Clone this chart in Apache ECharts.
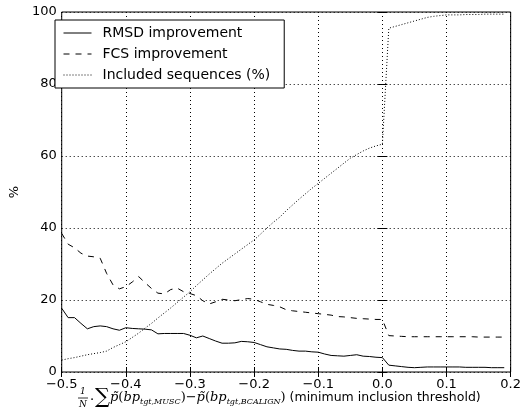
<!DOCTYPE html>
<html><head><meta charset="utf-8">
<script src="https://cdn.jsdelivr.net/npm/echarts@6/dist/echarts.min.js"></script>
<style>html,body{margin:0;padding:0;background:#fff}#c{width:524px;height:410px}</style>
</head><body><div id="c"></div>
<script>
const xs = [-0.50,-0.49,-0.48,-0.47,-0.46,-0.45,-0.44,-0.43,-0.42,-0.41,-0.40,-0.39,-0.38,-0.37,-0.36,-0.35,-0.34,-0.33,-0.32,-0.31,-0.30,-0.29,-0.28,-0.27,-0.26,-0.25,-0.24,-0.23,-0.22,-0.21,-0.20,-0.19,-0.18,-0.17,-0.16,-0.15,-0.14,-0.13,-0.12,-0.11,-0.10,-0.09,-0.08,-0.07,-0.06,-0.05,-0.04,-0.03,-0.02,-0.01,0.00,0.01,0.02,0.03,0.04,0.05,0.06,0.07,0.08,0.09,0.10,0.11,0.12,0.13,0.14,0.15,0.16,0.17,0.18,0.19];
const rmsd = [17.7,15.1,15.1,13.5,12.0,12.6,12.8,12.6,12.0,11.6,12.3,12.1,12.0,11.9,11.7,10.6,10.7,10.7,10.7,10.7,10.2,9.5,10.0,9.3,8.6,8.0,8.0,8.1,8.5,8.4,8.2,7.6,7.0,6.7,6.4,6.3,6.0,5.8,5.8,5.6,5.5,5.0,4.6,4.5,4.4,4.6,4.8,4.4,4.3,4.1,4.0,1.9,1.7,1.5,1.3,1.2,1.3,1.4,1.4,1.4,1.4,1.4,1.4,1.3,1.3,1.3,1.3,1.2,1.2,1.2];
const fcs = [38.5,35.5,34.5,33.0,32.2,32.0,31.6,27.4,24.2,23.1,23.7,25.0,26.5,24.8,23.2,21.9,21.7,22.9,23.3,22.3,21.8,21.2,19.8,18.9,19.5,20.2,20.0,19.8,20.1,20.4,20.2,19.5,18.8,18.5,18.1,17.3,17.0,16.8,16.6,16.4,16.2,16.0,15.8,15.4,15.3,15.1,14.9,14.8,14.7,14.6,14.6,10.1,10.0,9.9,9.8,9.8,9.8,9.8,9.8,9.8,9.8,9.8,9.8,9.8,9.8,9.7,9.7,9.7,9.7,9.7];
const incl = [3.3,3.7,4.0,4.4,4.8,5.1,5.4,5.8,6.8,7.6,8.4,9.6,10.8,12.2,13.5,15.0,16.4,17.8,19.3,20.8,22.3,24.0,25.6,27.2,28.7,30.2,31.5,32.8,34.1,35.4,36.7,38.3,40.0,41.6,43.0,44.8,46.4,48.0,49.5,51.0,52.4,53.8,55.2,56.6,58.0,59.4,60.4,61.4,62.2,62.8,63.3,95.5,96.0,96.5,97.0,97.5,98.0,98.5,98.8,99.0,99.2,99.2,99.2,99.3,99.3,99.3,99.4,99.4,99.4,99.4];
const seriesNames = ['RMSD improvement','FCS improvement','Included sequences (%)'];

const pairs = arr => xs.map((x,i)=>[x,arr[i]]);
const font = 'DejaVu Sans';
const fmtX = v => v.toFixed(1).replace('-', '\u2212');
const chart = echarts.init(document.getElementById('c'), null, {renderer:'canvas'});
const gridLine = {show:true, lineStyle:{color:'#000', type:[1,3], width:1}};
chart.setOption({
  animation:false,
  textStyle:{fontFamily:font},
  grid:{left:47, right:11, top:12, bottom:38, show:true, borderColor:'#000', borderWidth:1},
  legend:{
    orient:'vertical', left:55, top:20, padding:[6,14,6,8],
    data:seriesNames, backgroundColor:'#fff', borderColor:'#000', borderWidth:1, borderRadius:0,
    itemWidth:28, itemHeight:14, itemGap:7,
    itemStyle:{opacity:0},
    lineStyle:{width:1},
    textStyle:{fontFamily:font, fontSize:14, color:'#000', padding:[0,0,0,6]}
  },
  xAxis:[{
    type:'value', min:-0.5, max:0.2, interval:0.1,
    axisLine:{show:false}, axisTick:{inside:true, length:5, lineStyle:{color:'#000'}},
    axisLabel:{formatter:fmtX, color:'#000', fontSize:13, fontFamily:font, margin:6},
    splitLine:gridLine
  },{
    type:'value', position:'top', min:-0.5, max:0.2, interval:0.1,
    axisLine:{show:false}, axisTick:{inside:true, length:5, lineStyle:{color:'#000'}},
    axisLabel:{show:false}, splitLine:{show:false}
  }],
  yAxis:[{
    type:'value', min:0, max:100, interval:20,
    name:'%', nameLocation:'middle', nameGap:30, nameTextStyle:{fontSize:13, color:'#000', fontFamily:font},
    axisLine:{show:false}, axisTick:{show:true, inside:true, length:5, lineStyle:{color:'#000'}},
    axisLabel:{color:'#000', fontSize:13, fontFamily:font, margin:5},
    splitLine:gridLine
  },{
    type:'value', position:'right', min:0, max:100, interval:20,
    axisLine:{show:false}, axisTick:{show:true, inside:true, length:5, lineStyle:{color:'#000'}},
    axisLabel:{show:false}, splitLine:{show:false}
  }],
  series:[
    {name:seriesNames[0], type:'line', data:pairs(rmsd), symbol:'none', lineStyle:{color:'#000', width:1, type:'solid'}, itemStyle:{color:'#000'}},
    {name:seriesNames[1], type:'line', data:pairs(fcs), symbol:'none', lineStyle:{color:'#000', width:1, type:[6,6]}, itemStyle:{color:'#000'}},
    {name:seriesNames[2], type:'line', data:pairs(incl), symbol:'none', lineStyle:{color:'#000', width:1, type:[1,2]}, itemStyle:{color:'#000'}}
  ],
  graphic:[
    {type:'text', left:80, top:387, style:{text:'1', font:'italic 9px "DejaVu Serif"', fill:'#000'}},
    {type:'line', shape:{x1:78, y1:398, x2:88, y2:398}, style:{stroke:'#000', lineWidth:0.8}},
    {type:'text', left:79, top:400, style:{text:'N', font:'italic 9px "DejaVu Serif"', fill:'#000'}},
    {type:'text', left:90, top:394, style:{text:'\u00b7', font:'13px "DejaVu Serif"', fill:'#000'}},
    {type:'text', left:95, top:387, style:{
      rich:{
        s:{font:'21px "DejaVu Serif"', fill:'#000', verticalAlign:'bottom'},
        i:{font:'italic 13px "DejaVu Serif"', fill:'#000'},
        r:{font:'13px "DejaVu Serif"', fill:'#000'},
        b:{font:'italic 8px "DejaVu Serif"', fill:'#000', padding:[8,0,0,0]},
        t:{font:'12.5px "DejaVu Sans"', fill:'#000'}
      },
      text:'{s|\u2211}{i|p\u0303}{r|(}{i|bp}{b|tgt,MUSC}{r|)\u2212}{i|p\u0303}{r|(}{i|bp}{b|tgt,BCALIGN}{r|)}{t| (minimum inclusion threshold)}'
    }}
  ]
});
</script></body></html>
